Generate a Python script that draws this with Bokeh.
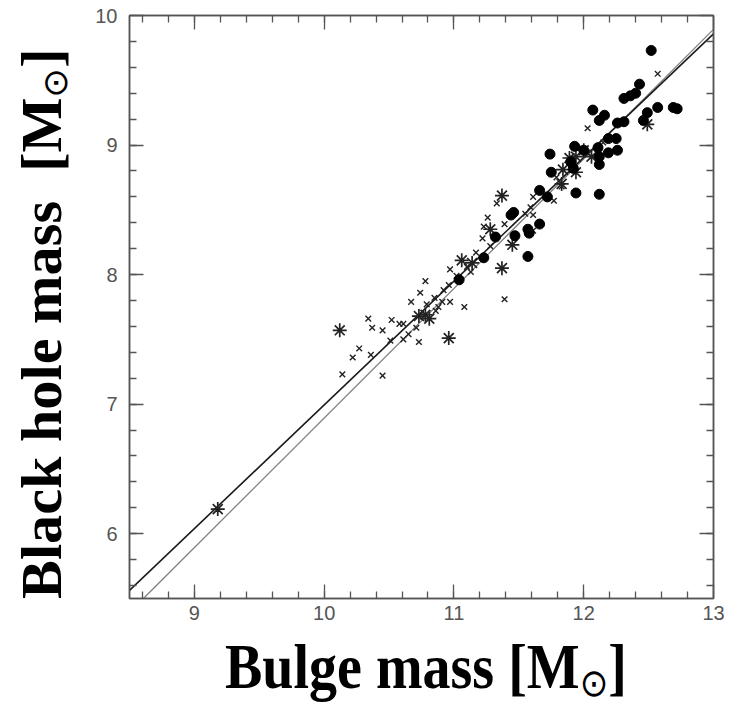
import numpy as np
from bokeh.plotting import figure
from bokeh.models import Range1d, FixedTicker, LinearAxis, Div
from bokeh.layouts import row, column
from bokeh.embed import file_html
from bokeh.resources import INLINE

# ---- data (log masses) ----
circle_x = [12.52, 12.43, 12.31, 12.36, 12.40, 12.07, 12.16, 12.12, 12.26, 12.31,
            12.49, 12.57, 12.69, 12.72, 12.46,
            11.93, 12.11, 12.19, 12.25, 12.12, 12.19, 12.26, 12.12, 11.90, 11.92,
            12.00, 11.74, 11.75, 11.94, 12.12, 11.66, 11.72, 11.66, 11.58, 11.47,
            11.44, 11.46, 11.57, 11.57, 11.32, 11.23, 11.04]
circle_y = [9.73, 9.47, 9.36, 9.38, 9.40, 9.27, 9.23, 9.19, 9.17, 9.18,
            9.25, 9.29, 9.29, 9.28, 9.19,
            8.99, 8.98, 9.05, 9.05, 8.91, 8.94, 8.96, 8.85, 8.87, 8.82,
            8.96, 8.93, 8.79, 8.63, 8.62, 8.65, 8.60, 8.39, 8.32, 8.30,
            8.46, 8.48, 8.14, 8.35, 8.29, 8.13, 7.96]

star_x = [9.18, 10.12, 10.73, 10.78, 10.81, 10.96, 11.06, 11.14, 11.37, 11.37,
          11.28, 11.45, 11.84, 11.89, 11.94, 11.94, 11.83, 12.00, 12.06, 12.49]
star_y = [6.19, 7.57, 7.68, 7.69, 7.66, 7.51, 8.11, 8.09, 8.05, 8.61,
          8.35, 8.23, 8.81, 8.90, 8.91, 8.79, 8.70, 8.96, 8.91, 9.16]

cross_x = [10.14, 10.45, 10.22, 10.27, 10.36, 10.34, 10.37, 10.45, 10.52, 10.58,
           10.51, 10.61, 10.65, 10.71, 10.73, 10.67, 10.74, 10.78, 10.79, 10.86,
           10.85, 10.91, 10.92, 10.96, 10.97, 10.97, 11.08, 11.13, 11.17, 11.22,
           11.23, 11.26, 11.33, 11.39, 11.39, 11.55, 11.59, 11.61, 11.61, 11.61,
           11.77, 11.79, 11.83, 11.98, 12.03, 12.15, 12.57, 10.61, 11.02, 11.10,
           10.88, 11.28]
cross_y = [7.23, 7.22, 7.36, 7.43, 7.38, 7.66, 7.59, 7.57, 7.65, 7.62,
           7.49, 7.50, 7.54, 7.59, 7.48, 7.79, 7.86, 7.95, 7.77, 7.72,
           7.82, 7.79, 7.88, 7.92, 7.79, 8.04, 7.75, 8.02, 8.17, 8.28,
           8.37, 8.44, 8.55, 8.39, 7.81, 8.47, 8.52, 8.60, 8.46, 8.34,
           8.57, 8.75, 8.68, 8.98, 9.13, 9.02, 9.55, 7.62, 7.99, 8.06,
           7.75, 8.22]

fit1_x = [8.5, 13.0]
fit1_y = [5.562, 9.859]
fit2_x = [8.607, 13.0]
fit2_y = [5.5, 9.893]

x_major = [9, 10, 11, 12, 13]
y_major = [6, 7, 8, 9, 10]

XLABEL = "Bulge mass [M"
YLABEL = "Black hole mass&nbsp; [M"
SUN = "\u2299"

# ---- figure ----
LEFT_W = 70
FIG_H = 632
p = figure(width=732 - LEFT_W, height=FIG_H, output_backend="svg", toolbar_location=None,
           x_range=Range1d(8.5, 13), y_range=Range1d(5.5, 10),
           min_border_left=129 - LEFT_W, min_border_right=19, min_border_top=15,
           min_border_bottom=FIG_H - 598, x_axis_location=None, y_axis_location=None,
           margin=0)
p.grid.visible = False
p.outline_line_color = "#555555"
p.outline_line_width = 1.5
p.background_fill_color = "white"
p.border_fill_color = "white"

x_minor = [round(v, 2) for v in np.arange(8.6, 13.0, 0.2)]
y_minor = [round(v, 2) for v in np.arange(5.6, 10.0, 0.2)]
xt = FixedTicker(ticks=x_major, minor_ticks=x_minor)
yt = FixedTicker(ticks=y_major, minor_ticks=y_minor)

def style(ax, show_labels):
    ax.axis_line_color = "#555555"
    ax.axis_line_width = 1.5
    ax.major_tick_in = 14
    ax.major_tick_out = 0
    ax.minor_tick_in = 7
    ax.minor_tick_out = 0
    ax.major_tick_line_color = "#555555"
    ax.minor_tick_line_color = "#555555"
    ax.major_tick_line_width = 1.3
    ax.minor_tick_line_width = 1.3
    if show_labels:
        ax.major_label_text_font = "Liberation Sans"
        ax.major_label_text_font_size = "20px"
        ax.major_label_text_color = "#555555"
    else:
        ax.major_label_text_font_size = "0px"
        ax.major_label_standoff = 0

xb = LinearAxis(ticker=xt); style(xb, True); xb.major_label_standoff = 7
yl = LinearAxis(ticker=yt); style(yl, True); yl.major_label_standoff = 12
xa = LinearAxis(ticker=xt); style(xa, False)
yr = LinearAxis(ticker=yt); style(yr, False)
p.add_layout(xb, "below")
p.add_layout(yl, "left")
p.add_layout(xa, "above")
p.add_layout(yr, "right")

# fit lines
p.line(fit2_x, fit2_y, line_color="#808080", line_width=1.3)
p.line(fit1_x, fit1_y, line_color="#1a1a1a", line_width=1.6)

# points
p.scatter(cross_x, cross_y, marker="x", size=8, line_color="#222222", line_width=1.4)
p.scatter(star_x, star_y, marker="asterisk", size=14, line_color="#222222", line_width=1.7)
p.scatter(circle_x, circle_y, marker="circle", size=10, fill_color="black", line_color="black")

# ---- axis titles as HTML (allows the subscript sun symbol) ----
font = "font-family:'Liberation Serif','Times New Roman',serif;font-weight:bold;font-size:56px;color:black;line-height:56px;white-space:nowrap;"
sun_css = "position:relative;font-family:'DejaVu Sans',sans-serif;font-weight:normal;font-size:34px;"

ytext = (
    f"<div style='width:{LEFT_W}px;height:648px;display:flex;align-items:center;justify-content:flex-start;padding-left:14px;box-sizing:border-box;'>"
    f"<span style=\"display:inline-block;writing-mode:vertical-rl;transform:rotate(180deg) scale(1,1.04);{font}\">{YLABEL}"
    f"<span style=\"{sun_css}left:-13px;\">{SUN}</span>]</span></div>"
)
xtext = (
    f"<div style='width:732px;height:{706 - FIG_H}px;box-sizing:border-box;padding-left:225px;padding-top:10px;'>"
    f"<span style=\"display:inline-block;transform:scale(1,1.12);transform-origin:50% 84%;{font}\">{XLABEL}"
    f"<span style=\"{sun_css}top:7px;\">{SUN}</span>]</span></div>"
)

ydiv = Div(text=ytext, width=LEFT_W, height=FIG_H, margin=0, styles={"overflow": "visible"})
xdiv = Div(text=xtext, width=732, height=706 - FIG_H, margin=0, styles={"overflow": "visible"})

layout = column(row(ydiv, p, spacing=0, margin=0), xdiv, spacing=0, margin=0)

open("out.html", "w").write(file_html(layout, INLINE))
